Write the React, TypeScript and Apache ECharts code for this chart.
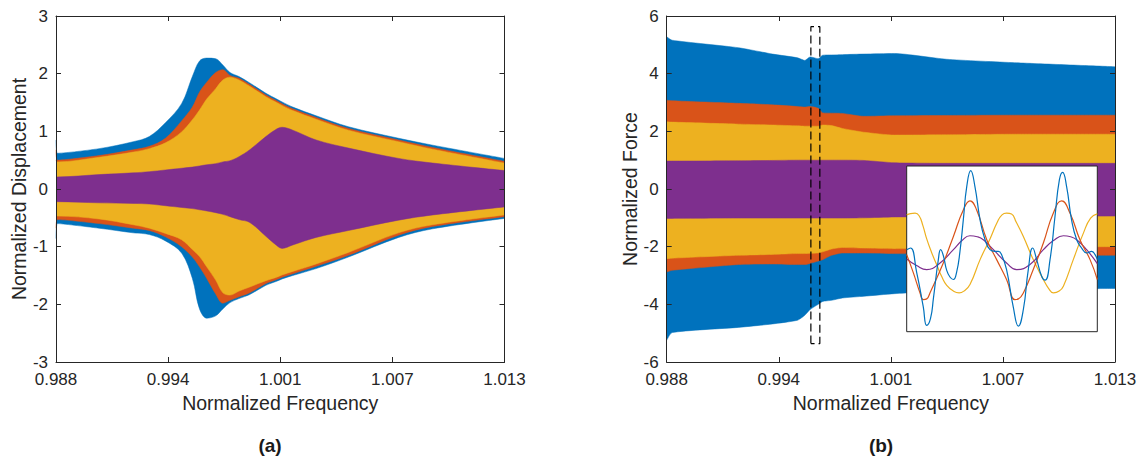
import React, { useEffect, useRef } from 'react';
import * as echarts from 'echarts';

// ---------- axes ----------
const F_MIN = 0.988;
const F_SPAN = 25; // axis runs 0..25 in units of 0.001 above F_MIN
const X_STEP = 6.25;
const X_TICKS = ['0.988', '0.994', '1.001', '1.007', '1.013'];

// ---------- panel (a): displacement envelopes ----------
const FREQ_A = [0.988, 0.98808, 0.9904, 0.9923, 0.9932, 0.9941, 0.995, 0.9956, 0.996, 0.9964, 0.9969, 0.9973, 0.9977, 0.9982, 0.9988, 0.9997, 1.0003, 1.0006, 1.0012, 1.0025, 1.0043, 1.0071, 1.009, 1.013];
const BLUE_UP_A = [0.85, 0.62, 0.7, 0.82, 0.91, 1.15, 1.48, 1.95, 2.22, 2.27, 2.26, 2.15, 2.02, 1.95, 1.84, 1.66, 1.56, 1.51, 1.42, 1.27, 1.08, 0.88, 0.76, 0.53];
const BLUE_LO_A = [-0.86, -0.6, -0.68, -0.76, -0.79, -0.9, -1.11, -1.55, -2.08, -2.24, -2.2, -2.08, -1.97, -1.9, -1.83, -1.67, -1.6, -1.56, -1.5, -1.38, -1.18, -0.84, -0.69, -0.51];
const ORANGE_UP_A = [0.68, 0.5, 0.58, 0.68, 0.74, 0.88, 1.18, 1.42, 1.68, 1.85, 2.02, 2.07, 1.97, 1.92, 1.81, 1.63, 1.53, 1.48, 1.39, 1.24, 1.05, 0.85, 0.72, 0.48];
const ORANGE_LO_A = [-0.68, -0.53, -0.6, -0.68, -0.72, -0.83, -1.0, -1.18, -1.35, -1.55, -1.82, -1.98, -1.93, -1.87, -1.8, -1.64, -1.57, -1.53, -1.47, -1.34, -1.15, -0.8, -0.65, -0.48];
const YELLOW_UP_A = [0.5, 0.47, 0.55, 0.64, 0.7, 0.8, 0.99, 1.2, 1.37, 1.56, 1.74, 1.89, 1.94, 1.89, 1.78, 1.6, 1.5, 1.45, 1.36, 1.21, 1.02, 0.82, 0.69, 0.45];
const YELLOW_LO_A = [-0.48, -0.47, -0.52, -0.62, -0.68, -0.77, -0.88, -1.05, -1.17, -1.35, -1.58, -1.8, -1.84, -1.77, -1.7, -1.59, -1.53, -1.49, -1.43, -1.3, -1.1, -0.76, -0.62, -0.45];
const PURPLE_UP_A = [0.21, 0.21, 0.25, 0.28, 0.3, 0.33, 0.36, 0.38, 0.4, 0.42, 0.44, 0.47, 0.49, 0.56, 0.68, 0.91, 1.04, 1.07, 1.02, 0.85, 0.71, 0.53, 0.45, 0.32];
const PURPLE_LO_A = [-0.22, -0.22, -0.24, -0.25, -0.26, -0.29, -0.32, -0.34, -0.36, -0.38, -0.41, -0.44, -0.48, -0.53, -0.58, -0.82, -0.98, -1.03, -0.97, -0.84, -0.72, -0.54, -0.45, -0.31];

// ---------- panel (b): force envelopes ----------
const FREQ_B = [0.988, 0.9883, 0.992, 0.9939, 0.9953, 0.9957, 0.996, 0.99645, 0.9967, 0.9972, 0.9978, 0.999, 1.0007, 1.0036, 1.0074, 1.013];
const BLUE_UP_B = [5.28, 5.16, 4.9, 4.68, 4.55, 4.46, 4.58, 4.52, 4.64, 4.65, 4.66, 4.68, 4.7, 4.5, 4.38, 4.24];
const BLUE_LO_B = [-5.25, -4.98, -4.8, -4.68, -4.55, -4.38, -4.18, -4.0, -3.9, -3.86, -3.78, -3.72, -3.63, -3.54, -3.48, -3.45];
const ORANGE_UP_B = [3.08, 3.06, 2.97, 2.92, 2.86, 2.84, 2.86, 2.8, 2.64, 2.63, 2.62, 2.52, 2.54, 2.55, 2.56, 2.56];
const ORANGE_LO_B = [-2.88, -2.82, -2.62, -2.6, -2.62, -2.62, -2.58, -2.5, -2.45, -2.3, -2.22, -2.22, -2.24, -2.26, -2.28, -2.3];
const YELLOW_UP_B = [2.33, 2.32, 2.25, 2.22, 2.19, 2.18, 2.18, 2.18, 2.22, 2.2, 2.1, 1.97, 1.87, 1.88, 1.9, 1.9];
const YELLOW_LO_B = [-2.42, -2.4, -2.3, -2.27, -2.24, -2.24, -2.23, -2.22, -2.18, -2.08, -2.03, -2.05, -2.07, -2.05, -2.02, -2.0];
const PURPLE_UP_B = [0.97, 0.97, 0.98, 0.99, 1.0, 1.0, 1.0, 1.0, 1.0, 1.0, 1.0, 0.99, 0.91, 0.89, 0.89, 0.89];
const PURPLE_LO_B = [-1.02, -1.02, -1.01, -1.01, -1.01, -1.01, -1.01, -1.01, -1.01, -1.01, -1.01, -1.0, -0.97, -0.96, -0.95, -0.94];

// dashed window in panel (b): frequencies and force limits
const DASH_F = [0.99604, 0.99654];
const DASH_Y = [-5.36, 5.63];

// ---------- inset waveforms (time %, level %) ----------
const INSET_BLUE = [[0, 49.5], [2, 50.5], [5.2, 36], [8.7, 15], [10.5, 3.8], [12.5, 8], [14, 20], [16.6, 43.5], [17.8, 49.5], [19.2, 46], [21, 37], [22.7, 33], [24.5, 31.5], [26.2, 36], [27.9, 48], [29.7, 67.5], [31.5, 87.6], [33.6, 97.2], [35.8, 87.6], [38.5, 67.5], [41.1, 55.5], [43.7, 49.5], [46.3, 48.5], [48.1, 48.5], [49.8, 46.5], [52.4, 37.5], [55.9, 15], [58.6, 3.4], [61.2, 13.4], [63.8, 37.5], [66.1, 50.5], [68.2, 43.5], [70.8, 33.5], [72.6, 31.1], [75.2, 43.5], [77.8, 69.5], [80.1, 91.6], [81.8, 96.2], [83.9, 87.6], [86.5, 67.5], [89.2, 55.5], [91.8, 50.5], [94.4, 47.5], [97, 48.5], [98.8, 46.5], [100, 43.5]];
const INSET_ORANGE = [[0, 46.5], [3.5, 35.5], [7, 23.4], [8.7, 19.4], [10.5, 19.8], [12.2, 23.4], [19.2, 41.5], [24.5, 57.5], [29.7, 73.5], [33.2, 79], [36.7, 73.5], [42, 55.5], [47.2, 43.5], [52.4, 31.5], [56.8, 19.4], [58.6, 19.8], [61.2, 23.4], [66.4, 37.5], [71.7, 53.5], [76.9, 71.5], [81.3, 79], [85.7, 71.5], [90.9, 55.5], [96.2, 43.5], [100, 31.5]];
const INSET_YELLOW = [[0, 70.5], [2, 71.3], [4.4, 71.5], [6.5, 70], [8.5, 64], [10.5, 56], [13, 48], [15.7, 40.5], [18.5, 33], [21, 28], [24.5, 24.5], [27.5, 23.4], [30, 24.5], [33.2, 28.5], [38.5, 43.5], [43.7, 56], [47.5, 66], [50, 70.5], [52.4, 71.5], [55, 71], [57.5, 66], [61.2, 57.5], [66.4, 43.5], [71.7, 31.5], [74.5, 26], [77, 23.4], [80, 24.5], [82.2, 27.5], [87.4, 43.5], [92.7, 59.5], [96.5, 68.5], [100, 71.1]];
const INSET_PURPLE = [[0, 43.9], [5.2, 39.9], [10.5, 37.5], [17.5, 41.5], [24.5, 49.5], [29, 55], [33.2, 57.9], [37, 57.3], [40.2, 55.5], [45.5, 49.5], [52.4, 41.5], [57.7, 37.5], [64.7, 40.5], [71.7, 49.5], [77, 55], [82.2, 57.9], [86, 57.3], [89.2, 55.5], [94.4, 49.5], [100, 41.1]];

const BLUE = '#0072BD';
const ORANGE = '#D95319';
const YELLOW = '#EDB120';
const PURPLE = '#7E2F8E';
const AX = '#262626';
const FONT = 'Liberation Sans, Arial, Helvetica, sans-serif';

const toX = (f: number) => (f - F_MIN) * 1000;

// each band = area from its upper envelope down to zero + area from zero down to its lower envelope
function band(id: string, freq: number[], lo: number[], up: number[], color: string, axis: number, smooth: number) {
  const common = {
    type: 'line', xAxisIndex: axis, yAxisIndex: axis,
    symbol: 'none', showSymbol: false, smooth, silent: true, z: 2,
    lineStyle: { width: 0.5, color }, areaStyle: { color, opacity: 1, origin: 'auto' },
  };
  return [
    { ...common, name: id + '-up', data: freq.map((f, i) => [toX(f), up[i]]) },
    { ...common, name: id + '-lo', data: freq.map((f, i) => [toX(f), lo[i]]) },
  ];
}

function xAxes(grid: number, name: string) {
  return [
    {
      type: 'value', gridIndex: grid, position: 'bottom', min: 0, max: F_SPAN, interval: X_STEP, z: 4,
      name, nameLocation: 'middle', nameGap: 31, nameMoveOverlap: false,
      nameTextStyle: { fontSize: 19.5, color: AX, fontFamily: FONT },
      axisLine: { show: true, onZero: false, lineStyle: { color: AX, width: 1 } },
      axisTick: { show: true, inside: true, length: 5, lineStyle: { color: AX } },
      axisLabel: {
        show: true, margin: 9, fontSize: 17, color: AX, fontFamily: FONT, showMinLabel: true, showMaxLabel: true,
        formatter: (v: number) => X_TICKS[Math.round(v / X_STEP)] ?? '',
      },
      splitLine: { show: false },
    },
    {
      type: 'value', gridIndex: grid, position: 'top', min: 0, max: F_SPAN, interval: X_STEP, z: 4,
      axisLine: { show: true, onZero: false, lineStyle: { color: AX, width: 1 } },
      axisTick: { show: true, inside: true, length: 5, lineStyle: { color: AX } },
      axisLabel: { show: false }, splitLine: { show: false },
    },
  ];
}

function yAxes(grid: number, name: string, lim: number, step: number) {
  return [
    {
      type: 'value', gridIndex: grid, position: 'left', min: -lim, max: lim, interval: step, z: 4,
      name, nameLocation: 'middle', nameGap: 27, nameMoveOverlap: false,
      nameTextStyle: { fontSize: 19.5, color: AX, fontFamily: FONT },
      axisLine: { show: true, onZero: false, lineStyle: { color: AX, width: 1 } },
      axisTick: { show: true, inside: true, length: 5, lineStyle: { color: AX } },
      axisLabel: { show: true, margin: 8, fontSize: 17, color: AX, fontFamily: FONT, showMinLabel: true, showMaxLabel: true },
      splitLine: { show: false },
    },
    {
      type: 'value', gridIndex: grid, position: 'right', min: -lim, max: lim, interval: step, z: 4,
      axisLine: { show: true, onZero: false, lineStyle: { color: AX, width: 1 } },
      axisTick: { show: true, inside: true, length: 5, lineStyle: { color: AX } },
      axisLabel: { show: false }, splitLine: { show: false },
    },
  ];
}

export default function App() {
  const ref = useRef<HTMLDivElement>(null);

  useEffect(() => {
    if (!ref.current) return;
    const chart = echarts.init(ref.current, undefined, { renderer: 'svg' });

    const insetLine = (data: number[][], color: string) => ({
      type: 'line', xAxisIndex: 4, yAxisIndex: 4, data, symbol: 'none', showSymbol: false,
      smooth: 0.5, silent: true, z: 12, lineStyle: { width: 1.2, color },
    });

    const xs = [...xAxes(0, 'Normalized Frequency'), ...xAxes(1, 'Normalized Frequency')];
    const ys = [...yAxes(0, 'Normalized Displacement', 3, 1), ...yAxes(1, 'Normalized Force', 6, 2)];
    xs.push({ type: 'value', gridIndex: 2, min: 0, max: 100, show: false } as any);
    ys.push({ type: 'value', gridIndex: 2, min: 0, max: 100, show: false } as any);

    const x0 = toX(DASH_F[0]);
    const x1 = toX(DASH_F[1]);

    const option: any = {
      animation: false,
      backgroundColor: '#ffffff',
      textStyle: { fontFamily: FONT },
      grid: [
        { left: 56, top: 16, width: 448.5, height: 346, outerBoundsMode: 'none' },
        { left: 666.7, top: 16, width: 448.3, height: 346, outerBoundsMode: 'none' },
        {
          left: 906.7, top: 166, width: 190.6, height: 165.7, outerBoundsMode: 'none',
          show: true, backgroundColor: '#ffffff', borderColor: AX, borderWidth: 1, z: 10,
        },
      ],
      xAxis: xs,
      yAxis: ys,
      graphic: [
        { type: 'text', x: 270, y: 445, z: 20, style: { text: '(a)', font: 'bold 19px ' + FONT, fill: '#1a1a1a', align: 'center', verticalAlign: 'middle' } },
        { type: 'text', x: 881, y: 445, z: 20, style: { text: '(b)', font: 'bold 19px ' + FONT, fill: '#1a1a1a', align: 'center', verticalAlign: 'middle' } },
      ],
      series: [
        ...band('blueA', FREQ_A, BLUE_LO_A, BLUE_UP_A, BLUE, 0, 0.35),
        ...band('orangeA', FREQ_A, ORANGE_LO_A, ORANGE_UP_A, ORANGE, 0, 0.35),
        ...band('yellowA', FREQ_A, YELLOW_LO_A, YELLOW_UP_A, YELLOW, 0, 0.35),
        ...band('purpleA', FREQ_A, PURPLE_LO_A, PURPLE_UP_A, PURPLE, 0, 0.35),
        ...band('blueB', FREQ_B, BLUE_LO_B, BLUE_UP_B, BLUE, 2, 0.2),
        ...band('orangeB', FREQ_B, ORANGE_LO_B, ORANGE_UP_B, ORANGE, 2, 0.2),
        ...band('yellowB', FREQ_B, YELLOW_LO_B, YELLOW_UP_B, YELLOW, 2, 0.2),
        ...band('purpleB', FREQ_B, PURPLE_LO_B, PURPLE_UP_B, PURPLE, 2, 0.2),
        {
          type: 'line', name: 'window', xAxisIndex: 2, yAxisIndex: 2, symbol: 'none', showSymbol: false, silent: true, z: 3,
          data: [[x0, DASH_Y[0]], [x0, DASH_Y[1]], [x1, DASH_Y[1]], [x1, DASH_Y[0]], [x0, DASH_Y[0]]],
          lineStyle: { color: '#000000', width: 1.2, type: [8, 4] },
        },
        insetLine(INSET_YELLOW, YELLOW),
        insetLine(INSET_PURPLE, PURPLE),
        insetLine(INSET_ORANGE, ORANGE),
        insetLine(INSET_BLUE, BLUE),
      ],
    };

    chart.setOption(option);
    return () => chart.dispose();
  }, []);

  return (
    <div
      ref={ref}
      style={{ position: 'fixed', left: 0, top: 0, width: 1143, height: 459, background: '#ffffff' }}
    />
  );
}
